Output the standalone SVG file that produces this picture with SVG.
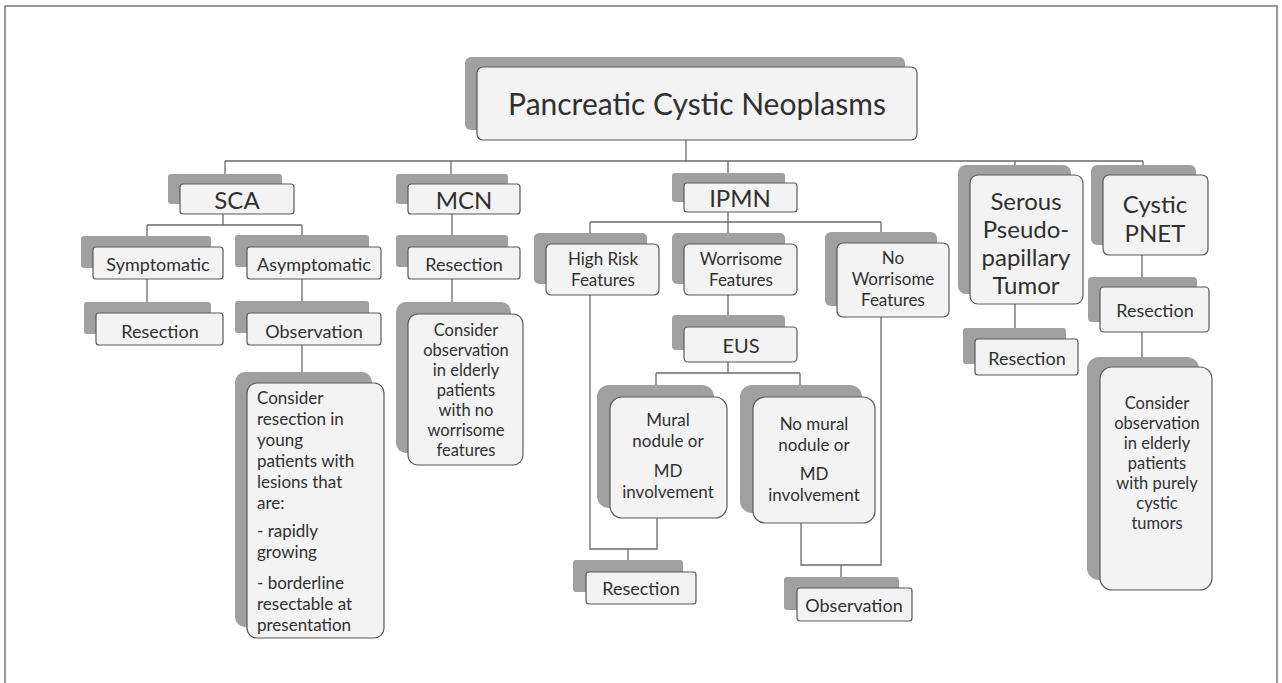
<svg xmlns="http://www.w3.org/2000/svg" width="1282" height="683" viewBox="0 0 1282 683">
<defs>
<style>
.sh{fill:#a0a0a0;stroke:none}
.fr{fill:#f3f3f3;stroke:#5a5a5a;stroke-width:1.2}
.ln{fill:none;stroke:#6a6a6a;stroke-width:1.3}
text{font-family:Lato,"Liberation Sans",sans-serif;fill:#303030;text-anchor:middle}
.t18{font-size:18px}
.t17{font-size:17px}
.t165{font-size:16.5px}
.t24{font-size:24px}
.t20{font-size:20px}
.left{text-anchor:start}
</style>
</defs>
<rect x="0" y="0" width="1282" height="683" fill="#ffffff"/>
<path d="M5,690 V6 H1277 V690" fill="none" stroke="#777" stroke-width="1.5"/>

<g id="connectors" class="ln">
<path d="M686,140 V161 M225,161 H1143 M225,161 V184 M451,161 V184 M728,161 V183 M1015,161 V175 M1143,161 V175"/>
<path d="M223,214 V225 M147,225 H302 M147,225 V247 M302,225 V247"/>
<path d="M147,279 V313 M302,279 V313 M302,345 V383"/>
<path d="M452,214 V247 M452,279 V314"/>
<path d="M728,211 V222 M590,222 H881 M590,222 V244 M728,222 V244 M881,222 V243"/>
<path d="M590,295 V549 H657 V518 M628,549 V572"/>
<path d="M728,295 V327 M728,362 V373 M656,373 H800 M656,373 V397 M800,373 V397"/>
<path d="M801,523 V565 H881 V317 M841,565 V588"/>
<path d="M1015,304 V339 M1142,255 V287 M1142,332 V367"/>
</g>

<g id="root">
<rect class="sh" x="465" y="57" width="440" height="73" rx="6"/>
<rect class="fr" x="477" y="67" width="440" height="73" rx="6"/>
<text x="697" y="115" style="font-size:30px">Pancreatic Cystic Neoplasms</text>
</g>

<g id="sca">
<rect class="sh" x="168" y="174" width="114" height="30" rx="3"/>
<rect class="fr" x="180" y="184" width="114" height="30" rx="3"/>
<text class="t24" x="237" y="209">SCA</text>
</g>
<g id="mcn">
<rect class="sh" x="396" y="174" width="112" height="30" rx="3"/>
<rect class="fr" x="408" y="184" width="112" height="30" rx="3"/>
<text class="t24" x="464" y="209">MCN</text>
</g>
<g id="ipmn">
<rect class="sh" x="672" y="173" width="113" height="29" rx="3"/>
<rect class="fr" x="684" y="183" width="113" height="29" rx="3"/>
<text class="t24" x="740" y="207">IPMN</text>
</g>
<g id="serous">
<rect class="sh" x="958" y="165" width="113" height="129" rx="8"/>
<rect class="fr" x="970" y="175" width="113" height="129" rx="8"/>
<text class="t24"><tspan x="1026" y="210">Serous</tspan><tspan x="1026" y="238">Pseudo-</tspan><tspan x="1026" y="266">papillary</tspan><tspan x="1026" y="294">Tumor</tspan></text>
</g>
<g id="pnet">
<rect class="sh" x="1091" y="165" width="105" height="80" rx="6"/>
<rect class="fr" x="1103" y="175" width="105" height="80" rx="6"/>
<text class="t24"><tspan x="1155" y="213">Cystic</tspan><tspan x="1155" y="242">PNET</tspan></text>
</g>

<g id="symptomatic">
<rect class="sh" x="81" y="236" width="130" height="32" rx="3"/>
<rect class="fr" x="93" y="247" width="130" height="32" rx="3"/>
<text class="t18" x="158" y="271">Symptomatic</text>
</g>
<g id="asymptomatic">
<rect class="sh" x="235" y="235" width="134" height="32" rx="3"/>
<rect class="fr" x="247" y="247" width="134" height="32" rx="3"/>
<text class="t18" x="314" y="271">Asymptomatic</text>
</g>
<g id="sca-resection">
<rect class="sh" x="84" y="302" width="127" height="32" rx="3"/>
<rect class="fr" x="96" y="313" width="127" height="32" rx="3"/>
<text class="t18" x="160" y="338">Resection</text>
</g>
<g id="sca-observation">
<rect class="sh" x="235" y="301" width="134" height="32" rx="3"/>
<rect class="fr" x="247" y="313" width="134" height="32" rx="3"/>
<text class="t18" x="314" y="338">Observation</text>
</g>
<g id="sca-consider">
<rect class="sh" x="235" y="372" width="137" height="255" rx="10"/>
<rect class="fr" x="247" y="383" width="137" height="255" rx="10"/>
<text class="t17 left"><tspan x="257" y="404">Consider</tspan><tspan x="257" y="425">resection in</tspan><tspan x="257" y="446">young</tspan><tspan x="257" y="467">patients with</tspan><tspan x="257" y="488">lesions that</tspan><tspan x="257" y="509">are:</tspan><tspan x="257" y="537">- rapidly</tspan><tspan x="257" y="558">growing</tspan><tspan x="257" y="589">- borderline</tspan><tspan x="257" y="610">resectable at</tspan><tspan x="257" y="631">presentation</tspan></text>
</g>

<g id="mcn-resection">
<rect class="sh" x="396" y="235" width="112" height="32" rx="3"/>
<rect class="fr" x="408" y="247" width="112" height="32" rx="3"/>
<text class="t18" x="464" y="271">Resection</text>
</g>
<g id="mcn-consider">
<rect class="sh" x="396" y="302" width="115" height="151" rx="10"/>
<rect class="fr" x="408" y="314" width="115" height="151" rx="10"/>
<text class="t165"><tspan x="466" y="336">Consider</tspan><tspan x="466" y="356">observation</tspan><tspan x="466" y="376">in elderly</tspan><tspan x="466" y="396">patients</tspan><tspan x="466" y="416">with no</tspan><tspan x="466" y="436">worrisome</tspan><tspan x="466" y="456">features</tspan></text>
</g>

<g id="high-risk">
<rect class="sh" x="534" y="233" width="113" height="51" rx="5"/>
<rect class="fr" x="546" y="244" width="113" height="51" rx="5"/>
<text class="t17"><tspan x="603" y="265">High Risk</tspan><tspan x="603" y="286">Features</tspan></text>
</g>
<g id="worrisome">
<rect class="sh" x="672" y="233" width="113" height="51" rx="5"/>
<rect class="fr" x="684" y="244" width="113" height="51" rx="5"/>
<text class="t17"><tspan x="741" y="265">Worrisome</tspan><tspan x="741" y="286">Features</tspan></text>
</g>
<g id="no-worrisome">
<rect class="sh" x="825" y="232" width="112" height="74" rx="6"/>
<rect class="fr" x="837" y="243" width="112" height="74" rx="6"/>
<text class="t17"><tspan x="893" y="264">No</tspan><tspan x="893" y="285">Worrisome</tspan><tspan x="893" y="306">Features</tspan></text>
</g>
<g id="eus">
<rect class="sh" x="672" y="315" width="113" height="35" rx="4"/>
<rect class="fr" x="684" y="327" width="113" height="35" rx="4"/>
<text class="t20" x="741" y="353">EUS</text>
</g>
<g id="mural">
<rect class="sh" x="597" y="385" width="117" height="123" rx="12"/>
<rect class="fr" x="610" y="397" width="117" height="121" rx="12"/>
<text class="t17"><tspan x="668" y="426">Mural</tspan><tspan x="668" y="447">nodule or</tspan><tspan x="668" y="477">MD</tspan><tspan x="668" y="498">involvement</tspan></text>
</g>
<g id="no-mural">
<rect class="sh" x="740" y="385" width="122" height="128" rx="12"/>
<rect class="fr" x="753" y="397" width="122" height="126" rx="12"/>
<text class="t17"><tspan x="814" y="430">No mural</tspan><tspan x="814" y="451">nodule or</tspan><tspan x="814" y="480">MD</tspan><tspan x="814" y="501">involvement</tspan></text>
</g>
<g id="ipmn-resection">
<rect class="sh" x="573" y="560" width="110" height="32" rx="3"/>
<rect class="fr" x="586" y="572" width="110" height="32" rx="3"/>
<text class="t18" x="641" y="595">Resection</text>
</g>
<g id="ipmn-observation">
<rect class="sh" x="784" y="577" width="115" height="33" rx="3"/>
<rect class="fr" x="797" y="588" width="115" height="33" rx="3"/>
<text class="t18" x="854" y="612">Observation</text>
</g>

<g id="serous-resection">
<rect class="sh" x="963" y="328" width="103" height="36" rx="3"/>
<rect class="fr" x="975" y="339" width="103" height="36" rx="3"/>
<text class="t18" x="1027" y="365">Resection</text>
</g>
<g id="pnet-resection">
<rect class="sh" x="1088" y="277" width="109" height="45" rx="4"/>
<rect class="fr" x="1100" y="287" width="109" height="45" rx="4"/>
<text class="t18" x="1155" y="317">Resection</text>
</g>
<g id="pnet-consider">
<rect class="sh" x="1087" y="357" width="112" height="223" rx="12"/>
<rect class="fr" x="1100" y="367" width="112" height="223" rx="12"/>
<text class="t165"><tspan x="1157" y="409">Consider</tspan><tspan x="1157" y="429">observation</tspan><tspan x="1157" y="449">in elderly</tspan><tspan x="1157" y="469">patients</tspan><tspan x="1157" y="489">with purely</tspan><tspan x="1157" y="509">cystic</tspan><tspan x="1157" y="529">tumors</tspan></text>
</g>
</svg>
